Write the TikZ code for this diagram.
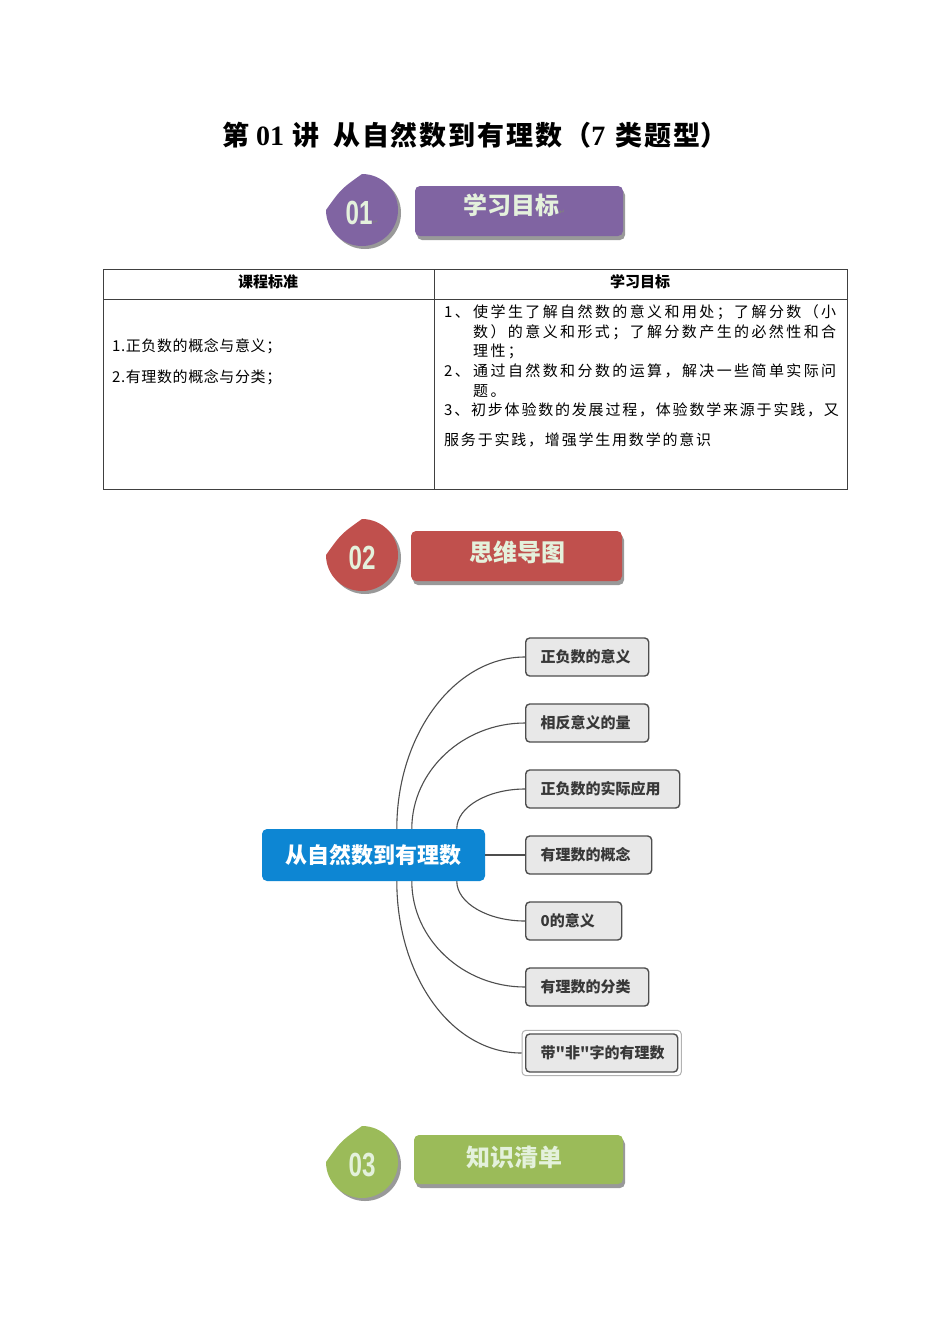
\documentclass[tikz,border=0pt]{standalone}
\usepackage{fontspec}
\usepackage{graphicx}
\setmainfont{Liberation Serif}
\newfontfamily\cjk{Noto Sans CJK SC}
\newfontfamily\cjka[LetterSpace=12]{Noto Sans CJK SC}
\newfontfamily\cjkw[LetterSpace=16]{Noto Sans CJK SC}
\newfontfamily\cjkl[LetterSpace=4]{Noto Sans CJK SC}
\newfontfamily\cjkt[LetterSpace=7]{Noto Sans CJK SC}
\newfontfamily\numfont{Liberation Sans}
\newfontfamily\symfont{DejaVu Sans}
\usetikzlibrary{fit,calc}
\definecolor{bpurple}{HTML}{8064A2}
\definecolor{bred}{HTML}{C0504D}
\definecolor{bgreen}{HTML}{9BBB59}
\definecolor{pale}{HTML}{E4F1DC}
\definecolor{mblue}{HTML}{0D86D3}
\definecolor{cfill}{HTML}{E8E8E8}
\definecolor{cline}{HTML}{4E4E4E}
\newcommand\retmark{{\symfont\fontsize{7}{7}\selectfont\color{gray}↵}}
\newcommand\mybadge[5]{%
  \begin{scope}[shift={(#1,#2)}]
    \fill[black!40] (3,-33) arc[start angle=-90,end angle=180,radius=36] .. controls (-18,-18) .. (3,-33) -- cycle;
    \fill[#3] (0,-36) arc[start angle=-90,end angle=180,radius=36] .. controls (-21,-21) .. (0,-36) -- cycle;
  \end{scope}
  \node[numtxt] (n#4) at (#1,#2+3) {\scalebox{0.78}[1.08]{\numfont\bfseries #4}#5};
}
\tikzset{
  tbl/.style={draw=black!75, line width=0.8pt},
  txt/.style={inner sep=0pt, anchor=west, font=\cjka\fontsize{15}{18}\selectfont},
  txtw/.style={inner sep=0pt, anchor=west, font=\cjkw\fontsize{15}{18}\selectfont},
  txtl/.style={inner sep=0pt, anchor=west, font=\cjkl\fontsize{15}{18}\selectfont},
  hdr/.style={inner sep=0pt, font=\cjk\bfseries\fontsize{15}{18}\selectfont},
  numtxt/.style={inner sep=0pt, text=pale, font=\fontsize{31}{32}\selectfont},
  bannertxt/.style={inner sep=0pt, text=pale, font=\cjk\bfseries\fontsize{24}{26}\selectfont},
  banner/.style={rounded corners=5pt},
  cbox/.style={draw=cline, line width=1.4pt, fill=cfill, rounded corners=4pt,
    minimum height=38pt, inner xsep=15pt, inner ysep=0pt, align=left,
    font=\cjk\bfseries\fontsize{15}{18}\selectfont, text=black!78, anchor=west},
  central/.style={fill=mblue, rounded corners=5pt, minimum width=223pt, minimum height=52pt,
    text=white, font=\cjk\bfseries\fontsize{22}{24}\selectfont, inner sep=0pt},
  conn/.style={draw=cline, line width=1.1pt},
}
\begin{document}
\begin{tikzpicture}[x=1pt,y=-1pt]
\useasboundingbox (0,0) rectangle (950,1344);
\fill[white] (0,0) rectangle (950,1344);

% title
\node[inner sep=0pt, anchor=west] (title) at (222,135) {\fontsize{27}{30}\selectfont{\cjkt\bfseries 第}\hspace{7pt}{\bfseries\fontsize{28}{30}\selectfont 01}\hspace{8pt}{\cjkt\bfseries 讲}\hspace{14pt}{\cjkt\bfseries 从自然数到有理数}\hspace{2pt}{\cjk\bfseries （}{\bfseries\fontsize{28}{30}\selectfont 7}\hspace{10pt}{\cjkt\bfseries 类题型}{\cjk\bfseries ）}};

% section 1 banner
\mybadge{362}{210}{bpurple}{01}{\retmark}
\fill[black!40, banner] (417,190) rectangle (625,240);
\fill[bpurple, banner] (415,186) rectangle (623,236);
\node[bannertxt] (s1) at (514,205) {学习目标\retmark};

% table
\draw[tbl] (103,269) rectangle (847,489);
\draw[tbl] (103,299) -- (847,299);
\draw[tbl] (434,269) -- (434,489);
\node[hdr] (h1) at (268,282) {课程标准};
\node[hdr] (h2) at (640,282) {学习目标};
\node[txtl] (l1) at (112,346) {1.正负数的概念与意义；};
\node[txtl] (l2) at (112,377) {2.有理数的概念与分类；};
\node[txtw] (r1) at (444,312) {\makebox[29pt][l]{1、}使学生了解自然数的意义和用处；了解分数（小};
\node[txtw] (r2) at (473,332) {数）的意义和形式；了解分数产生的必然性和合};
\node[txtw] (r3) at (473,351) {理性；};
\node[txtw] (r4) at (444,371) {\makebox[29pt][l]{2、}通过自然数和分数的运算，解决一些简单实际问};
\node[txtw] (r5) at (473,391) {题。};
\node[txt] (r6) at (444,410) {3、初步体验数的发展过程，体验数学来源于实践，又};
\node[txt] (r7) at (444,440) {服务于实践，增强学生用数学的意识};

% section 2 banner
\mybadge{362}{555}{bred}{02}{}
\fill[black!40, banner] (413,535) rectangle (624,585);
\fill[bred, banner] (411,531) rectangle (622,581);
\node[bannertxt] (s2) at (517,552) {思维导图};

% mind map
\node[central] (m) at (373.5,855) {从自然数到有理数};
\node[cbox, text width=93pt] (c1) at (525,657) {正负数的意义};
\node[cbox, text width=93pt] (c2) at (525,723) {相反意义的量};
\node[cbox, text width=124pt] (c3) at (525,789) {正负数的实际应用};
\node[cbox, text width=96pt] (c4) at (525,855) {有理数的概念};
\node[cbox, text width=66pt] (c5) at (525,921) {0的意义};
\node[cbox, text width=93pt] (c6) at (525,987) {有理数的分类};
\node[cbox, text width=122pt] (c7) at (525,1053) {带"非"字的有理数};
\node[fit=(c7), inner sep=3pt, draw=black!30, line width=1pt, rounded corners=4pt] (c7o) {};

\draw[conn] ([xshift=135pt]m.north west) .. controls +(0,-95) and +(-70,0) .. (c1.west);
\draw[conn] ([xshift=150pt]m.north west) .. controls +(0,-58) and +(-62,0) .. (c2.west);
\draw[conn] ([xshift=195pt]m.north west) .. controls +(0,-22) and +(-37,0) .. (c3.west);
\draw[conn] (m.east) -- (c4.west);
\draw[conn] ([xshift=195pt]m.south west) .. controls +(0,22) and +(-37,0) .. (c5.west);
\draw[conn] ([xshift=150pt]m.south west) .. controls +(0,58) and +(-62,0) .. (c6.west);
\draw[conn] ([xshift=135pt]m.south west) .. controls +(0,95) and +(-70,0) .. (c7o.west);

% section 3 banner
\mybadge{362}{1162}{bgreen}{03}{}
\fill[black!40, banner] (416,1139) rectangle (625,1188);
\fill[bgreen, banner] (414,1135) rectangle (623,1184);
\node[bannertxt] (s3) at (514,1157) {知识清单};
\end{tikzpicture}
\end{document}
